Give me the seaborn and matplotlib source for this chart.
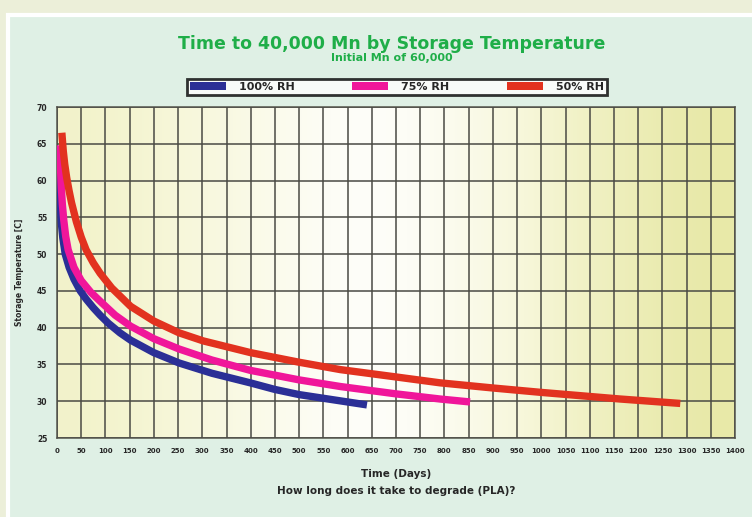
import numpy as np
import pandas as pd
import seaborn as sns
import matplotlib.pyplot as plt
from matplotlib.patches import Rectangle

# values
blue_days = [4, 5, 7, 9, 12, 17, 25, 35, 48, 60, 75, 89, 106, 130, 152, 200, 252, 320, 399, 450, 500, 580, 640]
blue_temp = [61, 59.5, 56.5, 54.2, 52.2, 50, 48.2, 46.6, 45.0, 43.9, 42.7, 41.7, 40.6, 39.3, 38.3, 36.6, 35.2, 33.8, 32.5, 31.6, 30.9, 30.1, 29.5]

pink_days = [6, 7, 9, 11, 14, 18, 23, 35, 50, 70, 89, 120, 152, 200, 252, 320, 399, 500, 585, 700, 791, 853]
pink_temp = [64.8, 62.0, 59.0, 56.8, 54.6, 52.4, 50.6, 48.2, 46.4, 44.8, 43.6, 41.7, 40.2, 38.5, 37.1, 35.6, 34.2, 32.9, 32.0, 31.0, 30.3, 29.9]

red_days = [10, 13, 16, 20, 25, 30, 40, 50, 60, 75, 89, 113, 152, 200, 252, 302, 400, 500, 585, 700, 791, 900, 1000, 1163, 1287]
red_temp = [66.5, 64.0, 62.2, 60.4, 58.6, 57.0, 54.4, 52.3, 50.6, 48.8, 47.4, 45.4, 42.9, 40.9, 39.3, 38.2, 36.6, 35.3, 34.3, 33.3, 32.5, 31.8, 31.2, 30.3, 29.7]

series_names = ["100% RH", "75% RH", "50% RH"]
series_colors = ["#2b2f96", "#f0169a", "#e2321f"]

x_ticks = list(range(0, 1401, 50))
y_ticks = list(range(25, 71, 5))

df = pd.concat([
    pd.DataFrame({"days": blue_days, "temp": blue_temp, "rh": series_names[0]}),
    pd.DataFrame({"days": pink_days, "temp": pink_temp, "rh": series_names[1]}),
    pd.DataFrame({"days": red_days, "temp": red_temp, "rh": series_names[2]}),
])

sns.set_style("white")
plt.rcParams['font.family'] = ['DejaVu Sans']

fig = plt.figure(figsize=(7.52, 5.17), dpi=100)
fig.patch.set_facecolor("#ecefd9")
# mint panel with white rim
panel = Rectangle((8/752, -0.05), 1, 1.05 - 15/517, transform=fig.transFigure,
                  facecolor="#dff0e5", edgecolor="white", linewidth=3)
panel.set_zorder(-10)
fig.add_artist(panel)

ax = fig.add_axes([57/752, 1 - 438/517, (735 - 57)/752, (438 - 107)/517])
ax.set_zorder(1)

# pale yellow -> white -> yellow background
grad = np.array([[0.35, 0.45, 0.6, 0.8, 0.95, 0.85, 0.6, 0.35, 0.15, 0.0]])
bg_cmap = sns.blend_palette(["#e8e9a8", "#f7f7da", "#ffffff"], as_cmap=True)
ax.imshow(grad, aspect="auto", cmap=bg_cmap, vmin=0, vmax=1, interpolation="bicubic",
          extent=[0, 1400, 25, 70], zorder=0)

sns.lineplot(data=df, x="days", y="temp", hue="rh", hue_order=series_names,
             palette=series_colors, linewidth=5.3, sort=True, estimator=None,
             legend=False, ax=ax, zorder=3)
for ln in ax.lines:
    ln.set_solid_capstyle("butt")
    ln.set_solid_joinstyle("round")

ax.set_xlim(0, 1400)
ax.set_ylim(25, 70)
ax.set_xticks(x_ticks)
ax.set_yticks(y_ticks)
ax.set_xticklabels([str(t) for t in x_ticks], fontsize=5, fontweight="bold")
ax.set_yticklabels([str(t) for t in y_ticks], fontsize=5.5, fontweight="bold")
ax.grid(True, color="#4a4a44", linewidth=1.1, zorder=1)
ax.set_axisbelow(False)
for s in ax.spines.values():
    s.set_color("#55554c")
    s.set_linewidth(1.1)
ax.tick_params(axis="both", length=4, width=1, color="#333333", pad=3)

ax.set_xlabel("Time (Days)\nHow long does it take to degrade (PLA)?", fontsize=7.5,
              fontweight="bold", linespacing=1.85, labelpad=11)
ax.set_ylabel("Storage Temperature [C]", fontsize=5.5, fontweight="bold", labelpad=9)

fig.text(392/752, 1 - 44/517, "Time to 40,000 Mn by Storage Temperature", ha="center",
         va="center", color="#1fae48", fontsize=12.5, fontweight="bold")
fig.text(392/752, 1 - 58/517, "Initial Mn of 60,000", ha="center", va="center",
         color="#1fae48", fontsize=8, fontweight="bold")

handles = [Rectangle((0, 0), 1, 1, facecolor=c, edgecolor="none") for c in series_colors]
leg = fig.legend(handles, series_names, loc="center", bbox_to_anchor=(397/752, 1 - 87/517),
                 ncol=3, frameon=True, fancybox=False, handlelength=3.2,
                 handleheight=0.7, columnspacing=5.2, handletextpad=1.2,
                 borderpad=0.25, prop={"weight": "bold", "size": 8})
leg.get_frame().set_edgecolor("black")
leg.get_frame().set_linewidth(2)
leg.get_frame().set_facecolor("white")

fig.savefig("out.png", dpi=100, facecolor=fig.get_facecolor())
